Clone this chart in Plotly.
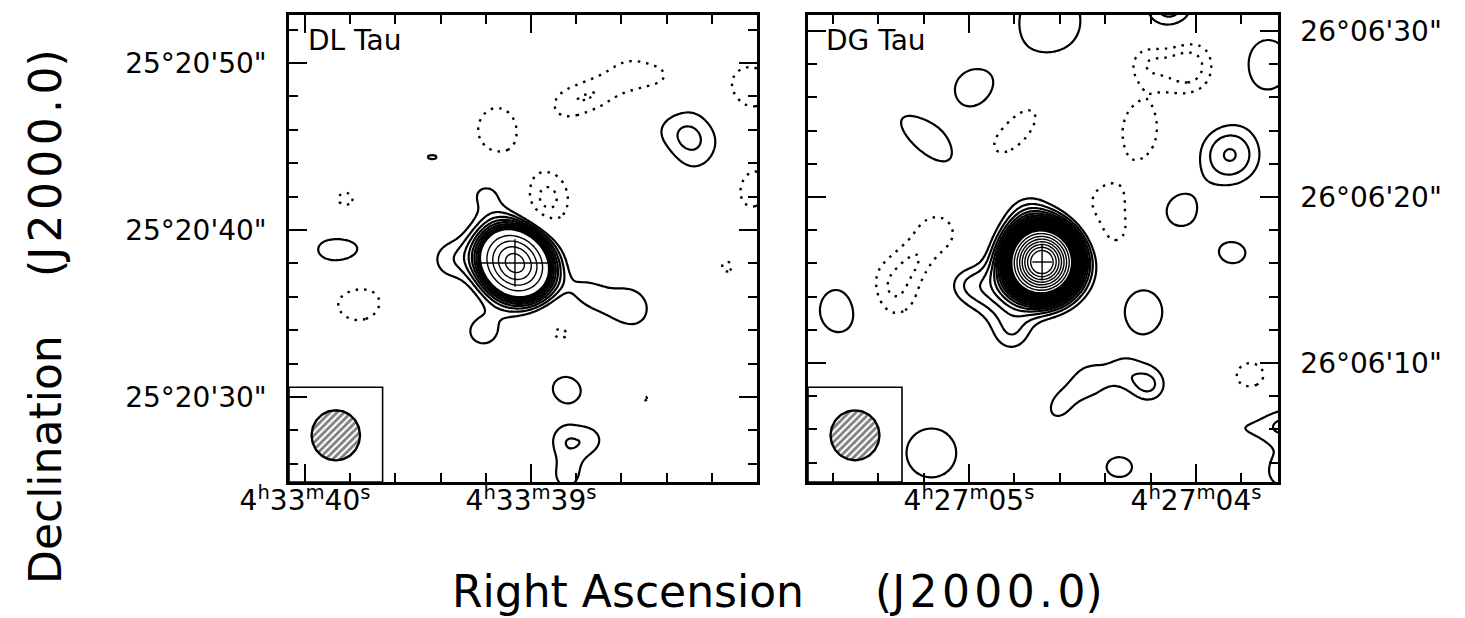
import numpy as np
import plotly.graph_objects as go

# ---------------- DL Tau map (left panel) ----------------
DL_LABEL = "DL Tau"
DL_RA0 = 39.071        # seconds of RA after 4h33m
DL_DEC0 = 38.02        # arcsec after +25d20'
DL_DEC_DEG = 25.344

# Gaussian components: offset east ("), offset north ("), peak (sigma), sigma major ("), sigma minor ("), PA (deg E of N)
DL_DX = [0.00, 3.95, 1.62, 1.90, -6.60, -4.25, -10.48, 10.48, 4.90, -3.17, -2.90, -4.60, -3.10, -3.60,
         -1.92, 1.08, -3.11, -4.91, -6.71, -8.86, -14.07, -14.20, -7.90, 10.18, 9.40, -2.70, -5.27, -12.70, -7.80]
DL_DY = [0.00, 0.18, 4.25, -4.10, -2.75, -1.85, 7.54, 0.78, 6.35, -7.43, -10.60, -10.60, -12.80, -11.60,
         3.77, 7.90, 9.52, 10.18, 11.26, 10.96, 10.50, 4.55, 5.45, 3.65, -2.28, -4.13, -5.39, -0.24, -8.10]
DL_AMP = [33.0, 2.4, 2.4, 2.5, 2.65, 1.9, 3.35, 3.05, 2.1, 2.6, 2.2, 2.1, 2.3, 0.4,
          -3.4, -2.7, -2.3, -2.25, -2.3, -2.2, -2.7, -2.6, -2.08, -2.25, -2.6, -2.3, -2.35, -2.06, -2.03]
DL_SMAJ = [1.42, 1.15, 1.25, 1.15, 1.75, 0.90, 1.95, 1.70, 1.30, 1.30, 0.85, 0.85, 0.95, 0.80,
           1.55, 1.78, 1.05, 1.05, 1.05, 1.20, 1.60, 1.70, 1.00, 1.30, 1.82, 1.20, 1.10, 1.00, 0.80]
DL_SMIN = [1.22, 1.10, 1.05, 1.05, 1.60, 0.70, 1.65, 1.20, 0.60, 1.25, 0.85, 0.85, 0.95, 0.80,
           1.22, 1.47, 0.95, 0.95, 0.95, 1.20, 1.60, 1.30, 1.00, 1.30, 1.57, 1.20, 1.10, 1.00, 0.80]
DL_PA = [45, 0, 90, 90, 90, 60, 45, 90, 90, 90, 0, 0, 0, 0,
         0, 0, -62, -62, -62, 0, 0, 0, 0, 0, 90, 0, 0, 0, 0]
DL_POS_LEVELS = [2, 3, 4, 5, 6, 7, 8, 9, 10, 15, 20, 25, 30]
DL_NEG_LEVELS = [-3, -2]

# ---------------- DG Tau map (right panel) ----------------
DG_LABEL = "DG Tau"
DG_RA0 = 4.678         # seconds of RA after 4h27m
DG_DEC0 = 16.08        # arcsec after +26d06'
DG_DEC_DEG = 26.10

DG_DX = [0.00, 4.46, 1.75, 2.53, 0.84,
         8.86, 6.27, 7.59, 1.63, -3.86, -4.40, -8.73, -6.20, -5.80, -12.35,
         4.04, 6.69, -0.48, -7.59, -13.40, -11.14, -8.13, -11.33, -6.02, 11.99,
         -1.08, -2.89, -4.70, -6.33, 6.57, -4.58, -12.05, -14.46, -14.30]
DG_DY = [0.00, -1.27, -4.28, -1.99, 2.83,
         -1.63, 1.63, 0.00, 8.07, 3.43, 1.63, 11.80, 12.05, 7.90, -6.93,
         10.36, 7.29, 14.46, 15.30, 11.90, 6.45, 3.13, 0.54, -3.01, -2.89,
         -8.61, -7.11, -6.63, -7.41, -11.50, -12.35, -9.82, -9.70, -12.65]
DG_AMP = [55.0, 2.4, 2.4, 2.6, 2.0,
          -3.2, -2.6, -1.1, -2.8, -2.5, -1.4, -3.7, -2.2, -2.7, -2.3,
          2.6, 2.8, 2.9, 3.6, 2.8, 4.1, 2.5, 2.3, 2.6, 3.03,
          2.3, 2.3, 1.8, 3.05, 2.7, 2.3, 2.25, 2.4, 2.6]
DG_SMAJ = [1.30, 1.20, 1.10, 1.40, 1.20,
           1.60, 1.40, 0.90, 2.50, 1.50, 0.80, 1.40, 1.00, 2.00, 1.60,
           1.53, 2.50, 2.40, 1.20, 1.80, 1.45, 1.35, 1.36, 1.80, 1.52,
           1.30, 1.00, 0.90, 0.90, 1.90, 1.42, 1.73, 1.00, 1.10]
DG_SMIN = [1.25, 1.00, 1.00, 1.40, 1.00,
           1.40, 1.35, 0.90, 1.15, 1.40, 0.70, 1.30, 1.00, 1.30, 1.60,
           1.53, 0.95, 2.10, 1.20, 1.50, 1.45, 1.35, 1.13, 1.53, 1.32,
           0.90, 0.90, 0.85, 0.90, 1.90, 1.13, 1.00, 1.00, 1.10]
DG_PA = [0, 75, 160, 0, 0,
         0, 0, 0, -42, 0, 0, 0, 0, 0, 0,
         0, 50, 0, 0, 0, 0, 0, 90, 0, 0,
         -31, 0, 0, 0, 0, 90, 90, 0, 0]
DG_POS_LEVELS = [2, 3, 4, 5, 6, 7, 8, 9, 10, 11, 12, 13, 14, 15, 16, 17, 18, 19, 20,
                 24, 28, 32, 36, 40, 44, 48]
DG_NEG_LEVELS = [-3, -2]

# synthesized beam (FWHM, arcsec)
BEAM_MAJ = 3.0
BEAM_MIN = 2.9
BEAM_PA = 0.0

# axis ticks
DL_RA_TICKS = [40, 39]
DL_RA_TEXT = ["4<sup>h</sup>33<sup>m</sup>40<sup>s</sup>", "4<sup>h</sup>33<sup>m</sup>39<sup>s</sup>"]
DL_DEC_TICKS = [30, 40, 50]
DL_DEC_TEXT = ["25°20'30\"", "25°20'40\"", "25°20'50\""]
DG_RA_TICKS = [5, 4]
DG_RA_TEXT = ["4<sup>h</sup>27<sup>m</sup>05<sup>s</sup>", "4<sup>h</sup>27<sup>m</sup>04<sup>s</sup>"]
DG_DEC_TICKS = [10, 20, 30]
DG_DEC_TEXT = ["26°06'10\"", "26°06'20\"", "26°06'30\""]

# visible windows (RA seconds, Dec arcsec)
DL_RA_RANGE = [40.071, 38.000]
DL_DEC_RANGE = [24.91, 52.87]
DG_RA_RANGE = [5.709, 3.639]
DG_DEC_RANGE = [2.83, 30.96]

FONT = "DejaVu Sans"
HAIR = "\u200a"
EPOCH = "(" + HAIR.join("J2000.0") + ")"


def gauss_map(dx, dy, comps):
    ex, ny = np.meshgrid(dx, dy)
    z = np.zeros_like(ex)
    for x0, y0, a, smaj, smin, pa in zip(*comps):
        t = np.radians(pa)
        ue, un = np.sin(t), np.cos(t)
        ox, oy = ex - x0, ny - y0
        u = ox * ue + oy * un
        v = -ox * un + oy * ue
        z += a * np.exp(-0.5 * ((u / smaj) ** 2 + (v / smin) ** 2))
    return z


def level_runs(levels):
    runs, cur = [], [levels[0]]
    for v in levels[1:]:
        if len(cur) == 1 or np.isclose(v - cur[-1], cur[1] - cur[0]):
            cur.append(v)
        else:
            runs.append(cur)
            cur = [v]
    runs.append(cur)
    return runs


fig = go.Figure()

panels = [
    dict(ra0=DL_RA0, dec0=DL_DEC0, decdeg=DL_DEC_DEG,
         comps=(DL_DX, DL_DY, DL_AMP, DL_SMAJ, DL_SMIN, DL_PA),
         pos=DL_POS_LEVELS, neg=DL_NEG_LEVELS, xa="x", ya="y",
         xr=DL_RA_RANGE, yr=DL_DEC_RANGE, cross=(54, 34)),
    dict(ra0=DG_RA0, dec0=DG_DEC0, decdeg=DG_DEC_DEG,
         comps=(DG_DX, DG_DY, DG_AMP, DG_SMAJ, DG_SMIN, DG_PA),
         pos=DG_POS_LEVELS, neg=DG_NEG_LEVELS, xa="x2", ya="y2",
         xr=DG_RA_RANGE, yr=DG_DEC_RANGE, cross=(14, 26)),
]

step = 0.13
off_x = np.arange(-15.6, 15.6 + 1e-9, step)
off_y = np.arange(-14.4, 16.2 + 1e-9, step)

for p in panels:
    z = np.round(gauss_map(off_x, off_y, p["comps"]), 3)
    sec_per_arcsec = 1.0 / (15.0 * np.cos(np.radians(p["decdeg"])))
    ra = p["ra0"] + off_x * sec_per_arcsec
    dec = p["dec0"] + off_y
    for run in level_runs(p["neg"]):
        size = run[1] - run[0] if len(run) > 1 else 1
        fig.add_trace(go.Contour(
            x=ra, y=dec, z=z, xaxis=p["xa"], yaxis=p["ya"],
            contours=dict(start=run[0], end=run[-1], size=size, coloring="none"),
            line=dict(color="black", width=2.4, dash="2.5px,6px", smoothing=0.9),
            showscale=False, hoverinfo="skip"))
    for i, run in enumerate(level_runs(p["pos"])):
        size = run[1] - run[0] if len(run) > 1 else 1
        fig.add_trace(go.Contour(
            x=ra, y=dec, z=z, xaxis=p["xa"], yaxis=p["ya"],
            contours=dict(start=run[0], end=run[-1], size=size, coloring="none"),
            line=dict(color="black", width=2.2 if i == 0 else 1.4, smoothing=0.9),
            showscale=False, hoverinfo="skip"))

    # source position marker
    ew, ns = p["cross"]
    fig.add_trace(go.Scatter(
        x=[p["ra0"]], y=[p["dec0"]], mode="markers", xaxis=p["xa"], yaxis=p["ya"],
        marker=dict(symbol="line-ew", size=ew, line=dict(color="black", width=1.4)),
        hoverinfo="skip"))
    fig.add_trace(go.Scatter(
        x=[p["ra0"]], y=[p["dec0"]], mode="markers", xaxis=p["xa"], yaxis=p["ya"],
        marker=dict(symbol="line-ns", size=ns, line=dict(color="black", width=1.4)),
        hoverinfo="skip"))

    # hatched beam in the lower-left corner box
    cx = p["xr"][0] + 0.1 * (p["xr"][1] - p["xr"][0])
    cy = p["yr"][0] + 0.1 * (p["yr"][1] - p["yr"][0])
    t = np.linspace(0, 2 * np.pi, 120)
    a, b, pa = BEAM_MAJ / 2, BEAM_MIN / 2, np.radians(BEAM_PA)
    e_off = a * np.cos(t) * np.sin(pa) - b * np.sin(t) * np.cos(pa)
    n_off = a * np.cos(t) * np.cos(pa) + b * np.sin(t) * np.sin(pa)
    fig.add_trace(go.Scatter(
        x=cx + e_off * sec_per_arcsec, y=cy + n_off, mode="lines",
        xaxis=p["xa"], yaxis=p["ya"], fill="toself", fillcolor="white",
        fillpattern=dict(shape="/", fgcolor="black", bgcolor="white", size=5, solidity=0.55),
        line=dict(color="black", width=2.4), hoverinfo="skip"))

axis_common = dict(
    showline=True, linecolor="black", linewidth=2.5, mirror="allticks",
    ticks="inside", ticklen=18, tickwidth=2, tickcolor="black",
    showgrid=False, zeroline=False, automargin=False,
    tickfont=dict(family=FONT, size=28, color="black"),
)
minor_common = dict(ticks="inside", ticklen=9, tickwidth=1.6, tickcolor="black", tickmode="linear", tick0=0)

fig.update_layout(
    width=1465, height=618,
    margin=dict(l=0, r=0, t=0, b=0, autoexpand=False),
    paper_bgcolor="white", plot_bgcolor="white",
    showlegend=False,
    xaxis=dict(axis_common, domain=[289 / 1465, 757 / 1465], range=DL_RA_RANGE,
               tickmode="array", tickvals=DL_RA_TICKS, ticktext=DL_RA_TEXT,
               minor=dict(minor_common, dtick=0.2), anchor="y", ticklabelstandoff=-8),
    yaxis=dict(axis_common, domain=[1 - 482 / 618, 1 - 15 / 618], range=DL_DEC_RANGE,
               tickmode="array", tickvals=DL_DEC_TICKS, ticktext=DL_DEC_TEXT,
               minor=dict(minor_common, dtick=2), anchor="x", ticklabelstandoff=14),
    xaxis2=dict(axis_common, domain=[808 / 1465, 1278 / 1465], range=DG_RA_RANGE,
                tickmode="array", tickvals=DG_RA_TICKS, ticktext=DG_RA_TEXT,
                minor=dict(minor_common, dtick=0.2), anchor="y2", ticklabelstandoff=-8),
    yaxis2=dict(axis_common, domain=[1 - 482 / 618, 1 - 15 / 618], range=DG_DEC_RANGE,
                tickmode="array", tickvals=DG_DEC_TICKS, ticktext=DG_DEC_TEXT,
                minor=dict(minor_common, dtick=2), anchor="x2", side="right",
                ticklabelstandoff=14),
)

# beam boxes
for xr, yr in (("x domain", "y domain"), ("x2 domain", "y2 domain")):
    fig.add_shape(type="rect", xref=xr, yref=yr, x0=0, x1=0.2, y0=0, y1=0.203,
                  line=dict(color="black", width=1.6), layer="above")

# source names
fig.add_annotation(text=DL_LABEL, xref="x domain", yref="y domain", x=0.036, y=0.946,
                   xanchor="left", yanchor="middle", showarrow=False,
                   font=dict(family=FONT, size=28, color="black"))
fig.add_annotation(text=DG_LABEL, xref="x2 domain", yref="y2 domain", x=0.034, y=0.946,
                   xanchor="left", yanchor="middle", showarrow=False,
                   font=dict(family=FONT, size=28, color="black"))

# axis titles
title_font = dict(family=FONT, size=44, color="black")
fig.add_annotation(text="Right Ascension", xref="paper", yref="paper",
                   x=628 / 1465, y=1 - 591 / 618, showarrow=False, borderpad=0,
                   xanchor="center", yanchor="middle", font=title_font)
fig.add_annotation(text=EPOCH, xref="paper", yref="paper",
                   x=989 / 1465, y=1 - 591 / 618, showarrow=False, borderpad=0,
                   xanchor="center", yanchor="middle", font=title_font)
fig.add_annotation(text="Declination", xref="paper", yref="paper",
                   x=45 / 1465, y=1 - 460 / 618, showarrow=False, textangle=-90,
                   xanchor="center", yanchor="middle", font=title_font)
fig.add_annotation(text=EPOCH, xref="paper", yref="paper",
                   x=45 / 1465, y=1 - 163 / 618, showarrow=False, textangle=-90,
                   xanchor="center", yanchor="middle", font=title_font)

fig.write_html("out.html")
